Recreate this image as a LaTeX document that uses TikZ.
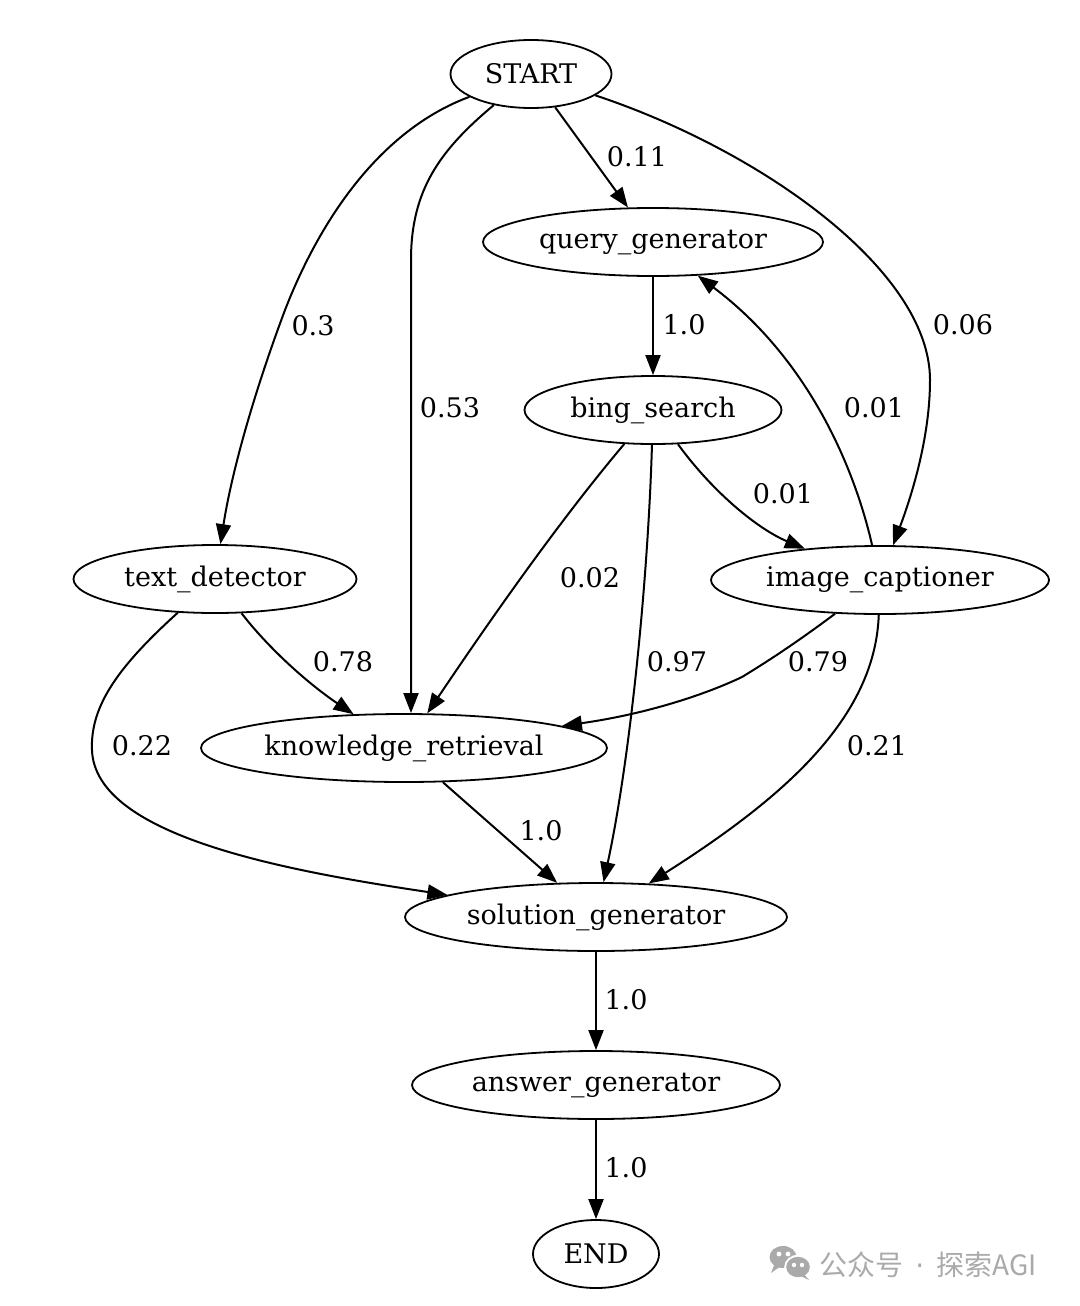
\documentclass[tikz,border=0pt]{standalone}
\usepackage{fontspec}
\setmainfont{DejaVu Serif}
\newfontfamily\cjkfont{Noto Sans CJK SC}
\newfontfamily\dotfont{DejaVu Sans}
\usetikzlibrary{positioning}
\usetikzlibrary{shapes.geometric}
\usetikzlibrary{arrows.meta}
\definecolor{wmgray}{HTML}{AAAAAA}
\tikzset{
  agent/.style={ellipse, draw, line width=0.9pt, inner sep=0pt, minimum height=34pt,
    font=\fontsize{13.5}{16}\selectfont},
  flow/.style={-{Triangle[length=10pt,width=7.5pt]}, line width=1pt},
  lbl/.style={font=\fontsize{13.5}{16}\selectfont, inner sep=0pt},
}
\begin{document}
\begin{tikzpicture}[x=0.5pt,y=-0.5pt]
  \fill[white] (0,0) rectangle (1080,1306);
  \useasboundingbox (0,0) rectangle (1080,1306);

  \node [agent,minimum width=80.5pt]  (start)   at (531,74)   {START};
  \node [agent,minimum width=170pt]   (query)   at (653,242)  {query\_generator};
  \node [agent,minimum width=128.5pt] (bing)    at (653,410)  {bing\_search};
  \node [agent,minimum width=141.5pt] (textdet) at (215,579)  {text\_detector};
  \node [agent,minimum width=169pt]   (imgcap)  at (880,580)  {image\_captioner};
  \node [agent,minimum width=203pt]   (know)    at (404,748)  {knowledge\_retrieval};
  \node [agent,minimum width=191pt]   (sol)     at (596,917)  {solution\_generator};
  \node [agent,minimum width=184pt]   (ans)     at (596,1085) {answer\_generator};
  \node [agent,minimum width=63pt]    (finish)  at (596,1254) {END};

  \draw [flow] (start) .. controls (380,130) and (320,220) .. (285,310)
    .. controls (255,390) and (232,470) .. (textdet) node[lbl] at (313,326) {0.3};
  \draw [flow] (start) .. controls (440,150) and (411,190) .. (411,260)
    -- ([xshift=3.5pt]know.north) node[lbl] at (450,408) {0.53};
  \draw [flow] (start) -- (query) node[lbl] at (637,157) {0.11};
  \draw [flow] (start) .. controls (760,150) and (930,270) .. (930,380)
    .. controls (930,440) and (910,500) .. (imgcap) node[lbl] at (963,325) {0.06};
  \draw [flow] (query) -- (bing) node[lbl] at (684,325) {1.0};
  \draw [flow] (imgcap) .. controls (855,470) and (810,360) .. (query) node[lbl] at (874,408) {0.01};
  \draw [flow] (bing) .. controls (715,495) and (760,530) .. (imgcap) node[lbl] at (783,494) {0.01};
  \draw [flow] (bing) .. controls (560,520) and (490,620) .. (know) node[lbl] at (590,578) {0.02};
  \draw [flow] (bing) .. controls (648,580) and (630,760) .. (sol) node[lbl] at (677,662) {0.97};
  \draw [flow] (textdet) .. controls (270,650) and (310,685) .. (know) node[lbl] at (343,662) {0.78};
  \draw [flow] (imgcap) .. controls (800,640) and (770,660) .. (742,677)
    .. controls (700,697) and (640,715) .. (know) node[lbl] at (818,662) {0.79};
  \draw [flow] (textdet) .. controls (120,665) and (90,705) .. (92,750)
    .. controls (95,835) and (280,870) .. (sol) node[lbl] at (142,746) {0.22};
  \draw [flow] (imgcap) .. controls (875,720) and (780,800) .. (sol) node[lbl] at (877,746) {0.21};
  \draw [flow] (know) -- (sol) node[lbl] at (541,831) {1.0};
  \draw [flow] (sol) -- (ans) node[lbl] at (626,1000) {1.0};
  \draw [flow] (ans) -- (finish) node[lbl] at (626,1168) {1.0};

  % watermark
  \fill[wmgray] (783,1257) ellipse (6.75pt and 5.5pt);
  \fill[wmgray] (775,1263) -- (771,1273) -- (781,1266) -- cycle;
  \fill[white] (798,1267) ellipse (6.9pt and 6.1pt);
  \fill[wmgray] (798,1267) ellipse (5.9pt and 5.1pt);
  \fill[wmgray] (803,1273) -- (809,1280) -- (799,1275) -- cycle;
  \fill[white] (779,1254) circle (1.2pt) (788,1254) circle (1.2pt);
  \fill[white] (794,1265) circle (1.1pt) (802,1265) circle (1.1pt);
  \node [text=wmgray,font=\cjkfont\fontsize{14}{16}\selectfont,anchor=west,inner sep=0pt] (wm) at (819,1265)
    {公众号\hspace{6pt}{\dotfont·}\hspace{6pt}探索AGI};
\end{tikzpicture}
\end{document}
